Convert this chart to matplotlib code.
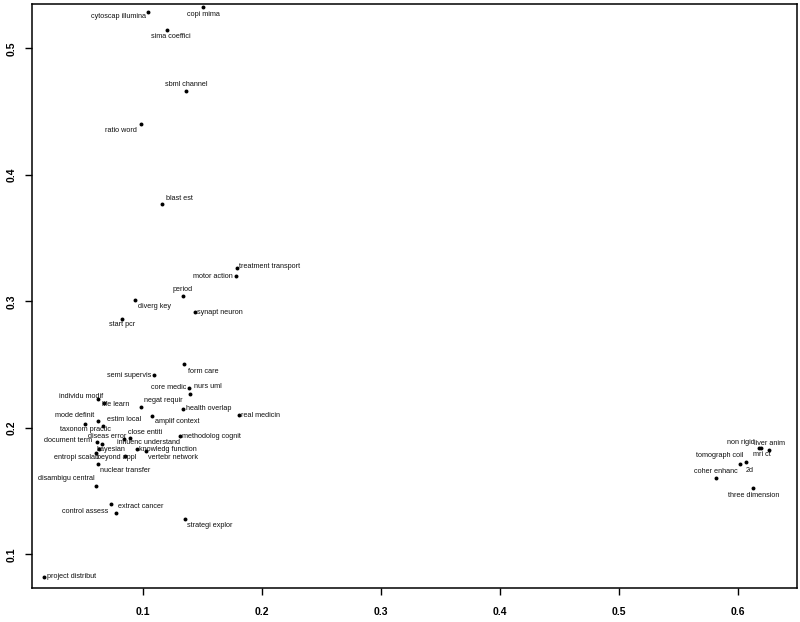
import matplotlib
matplotlib.use("Agg")
import matplotlib.pyplot as plt

# ---- data ----
terms = [
    "cytoscap illumina", "copi mima", "sima coeffici", "sbml channel", "ratio word",
    "blast est", "treatment transport", "motor action", "period", "diverg key",
    "synapt neuron", "start pcr", "form care", "semi supervis", "core medic",
    "nurs uml", "individu modif", "life learn", "negat requir", "health overlap",
    "real medicin", "amplif context", "mode definit", "estim local", "taxonom practic",
    "close entiti", "methodolog cognit", "document term", "diseas error",
    "influenc understand", "bayesian", "knowledg function", "entropi scalab",
    "beyond appl", "vertebr network", "nuclear transfer", "disambigu central",
    "extract cancer", "control assess", "strategi explor", "project distribut",
    "non rigid", "liver anim", "mri ct", "tomograph coil", "2d", "coher enhanc",
    "three dimension",
]
x_vals = [
    0.1042, 0.1504, 0.1202, 0.1361, 0.0983,
    0.1160, 0.1790, 0.1779, 0.1334, 0.0930,
    0.1434, 0.0824, 0.1347, 0.1092, 0.1387,
    0.1395, 0.0622, 0.0672, 0.0983, 0.1334,
    0.1804, 0.1078, 0.0619, 0.0661, 0.0513,
    0.0891, 0.1311, 0.0613, 0.0653,
    0.0843, 0.0633, 0.0947, 0.0605,
    0.0849, 0.1023, 0.0619, 0.0608,
    0.0729, 0.0773, 0.1350, 0.0171,
    0.6174, 0.6191, 0.6263, 0.6017, 0.6067, 0.5813,
    0.6129,
]
y_vals = [
    0.5287, 0.5323, 0.5145, 0.4662, 0.4402,
    0.3767, 0.3266, 0.3200, 0.3040, 0.3008,
    0.2915, 0.2858, 0.2502, 0.2417, 0.2317,
    0.2270, 0.2228, 0.2196, 0.2162, 0.2151,
    0.2099, 0.2096, 0.2051, 0.2017, 0.2028,
    0.1920, 0.1935, 0.1888, 0.1872,
    0.1909, 0.1830, 0.1832, 0.1800,
    0.1781, 0.1819, 0.1712, 0.1540,
    0.1395, 0.1329, 0.1279, 0.0821,
    0.1838, 0.1838, 0.1825, 0.1716, 0.1727, 0.1601,
    0.1524,
]
x_ticks = [0.1, 0.2, 0.3, 0.4, 0.5, 0.6]
y_ticks = [0.1, 0.2, 0.3, 0.4, 0.5]

# ---- layout: label offsets (pixels right, pixels down) from each point ----
label_offsets = [
    (-29, 5), (0, 7), (4, 6.7), (0.7, -6.7), (-20.5, 6.7),
    (17.5, -6), (33, -0.7), (-23, 0), (0, -7), (20, 6),
    (25.7, 0), (0, 5.7), (19.5, 7.4), (-24.5, 0), (-20.7, 0),
    (17.7, -6.7), (-17.2, -2.3), (11.8, 1), (22.3, -6.6), (26, 0),
    (22.3, 0), (24.8, 6), (-23.5, -6.3), (21, -6.4), (0, 5.7),
    (15.5, -5.3), (31.5, 0.5), (-29, -2.0), (6, -7.2),
    (24, 2.7), (12, 0), (31, 0), (-19.5, 4.3),
    (-8.5, 2), (27, 6.6), (27.8, 6.7), (-30, -7.3),
    (30.3, 2.4), (-31.3, -1), (25, 6), (27.4, 0),
    (-17.7, -6), (8.8, -5), (-7.3, 4.3), (-20.5, -8.7), (3.3, 8.4), (0, -6.6),
    (0, 7),
]

plt.rcParams['font.family'] = ['Liberation Sans', 'DejaVu Sans']

fig = plt.figure(figsize=(8, 6.22), dpi=100)
ax = fig.add_axes([31.7 / 800, 1 - 588 / 622, (797 - 31.7) / 800, (588 - 4) / 622])

ax.scatter(x_vals, y_vals, s=8, color='black', zorder=3, linewidths=0)

px2pt = 72.0 / 100.0
for t, x, y, (dx, dn) in zip(terms, x_vals, y_vals, label_offsets):
    ax.annotate(t, (x, y), xytext=(dx * px2pt, -dn * px2pt), textcoords='offset points',
                ha='center', va='center', fontsize=5.2, color='#111111', zorder=4)

ax.set_xlim(0.0065, 0.6496)
ax.set_ylim(0.0734, 0.535)
ax.set_xticks(x_ticks)
ax.set_yticks(y_ticks)
ax.set_xticklabels([f"{v:.1f}" for v in x_ticks], fontsize=7.5, fontweight='bold')
ax.set_yticklabels([f"{v:.1f}" for v in y_ticks], fontsize=7.5, fontweight='bold',
                   rotation=90, va='center')
ax.tick_params(axis='both', direction='out', length=5, width=1.0, color='black')
ax.tick_params(axis='x', pad=9)
ax.tick_params(axis='y', pad=6)
for s in ax.spines.values():
    s.set_linewidth(1.1)
    s.set_color('black')

fig.savefig("out.png", dpi=100)
